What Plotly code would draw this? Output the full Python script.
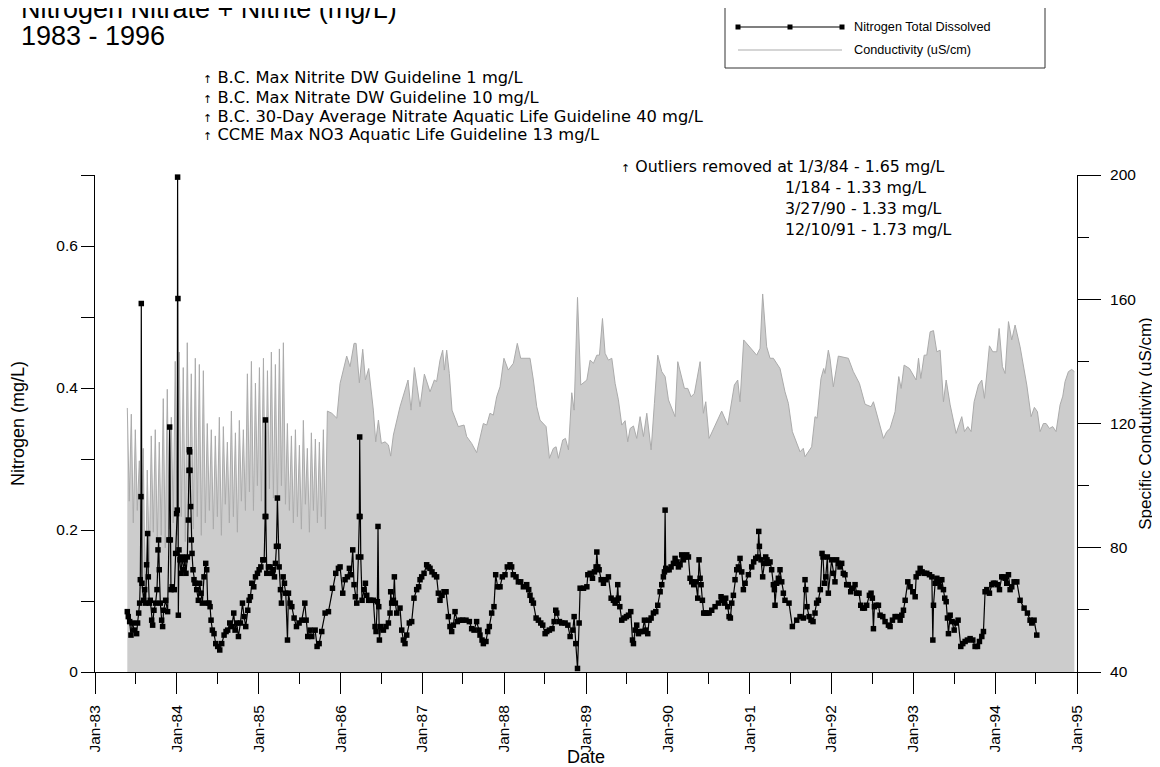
import pandas as pd
import plotly.graph_objects as go

# conductivity (uS/cm), sample dates as decimal years
cond_years = [
    1983.395, 1983.419, 1983.444, 1983.468, 1983.493, 1983.517, 1983.542, 1983.566, 1983.590, 1983.615,
    1983.639, 1983.664, 1983.688, 1983.713, 1983.737, 1983.762, 1983.786, 1983.810, 1983.835, 1983.859,
    1983.884, 1983.908, 1983.933, 1983.957, 1983.981, 1984.006, 1984.030, 1984.055, 1984.079, 1984.104,
    1984.128, 1984.153, 1984.177, 1984.201, 1984.226, 1984.250, 1984.275, 1984.299, 1984.324, 1984.348,
    1984.372, 1984.397, 1984.421, 1984.446, 1984.470, 1984.495, 1984.519, 1984.544, 1984.568, 1984.592,
    1984.617, 1984.641, 1984.666, 1984.690, 1984.715, 1984.739, 1984.763, 1984.788, 1984.812, 1984.837,
    1984.861, 1984.886, 1984.910, 1984.935, 1984.959, 1984.983, 1985.008, 1985.032, 1985.057, 1985.081,
    1985.106, 1985.130, 1985.154, 1985.179, 1985.203, 1985.228, 1985.252, 1985.277, 1985.301, 1985.326,
    1985.350, 1985.374, 1985.399, 1985.423, 1985.448, 1985.472, 1985.497, 1985.521, 1985.545, 1985.570,
    1985.594, 1985.619, 1985.643, 1985.668, 1985.692, 1985.717, 1985.741, 1985.765, 1985.790, 1985.814,
    1985.839, 1985.893, 1985.954,
    1985.994, 1986.075, 1986.116, 1986.165, 1986.190, 1986.230, 1986.271, 1986.304, 1986.344, 1986.401,
    1986.430, 1986.463, 1986.499, 1986.544, 1986.585, 1986.613, 1986.646, 1986.727, 1986.825, 1986.862,
    1986.903, 1986.972, 1987.025, 1987.094, 1987.147, 1987.175, 1987.216, 1987.249, 1987.269, 1987.298,
    1987.330, 1987.363, 1987.440, 1987.510, 1987.542, 1987.603, 1987.664, 1987.746, 1987.787, 1987.827,
    1987.868, 1987.909, 1987.950, 1987.998, 1988.051, 1988.113, 1988.161, 1988.202, 1988.316, 1988.357,
    1988.398, 1988.438, 1988.512, 1988.553, 1988.601, 1988.634, 1988.662, 1988.715, 1988.748, 1988.785,
    1988.825, 1988.854, 1988.895, 1988.935, 1989.009,
    1989.049, 1989.090, 1989.131, 1989.163, 1989.200, 1989.232, 1989.273, 1989.314, 1989.355, 1989.395,
    1989.436, 1989.477, 1989.509, 1989.538, 1989.579, 1989.619, 1989.660, 1989.701, 1989.742, 1989.795,
    1989.835, 1989.876, 1989.925, 1989.966, 1990.007, 1990.088, 1990.121, 1990.202, 1990.243, 1990.284,
    1990.324, 1990.394, 1990.434, 1990.463, 1990.504, 1990.577, 1990.658, 1990.732, 1990.772, 1990.813,
    1990.854, 1990.882, 1990.927, 1991.086, 1991.127, 1991.159, 1991.208, 1991.249, 1991.290, 1991.371,
    1991.432, 1991.473, 1991.522, 1991.616, 1991.656, 1991.677, 1991.758, 1991.799, 1991.824, 1991.872,
    1991.905, 1991.921, 1991.962,
    1991.982, 1992.023, 1992.084, 1992.206, 1992.267, 1992.341, 1992.410, 1992.483, 1992.512, 1992.573,
    1992.634, 1992.675, 1992.715, 1992.776, 1992.821, 1992.850, 1992.886, 1992.952, 1993.033, 1993.062,
    1993.090, 1993.131, 1993.163, 1993.204, 1993.245, 1993.286, 1993.326, 1993.367, 1993.400, 1993.449,
    1993.522, 1993.591, 1993.624, 1993.665, 1993.705, 1993.742, 1993.795, 1993.836, 1993.868, 1993.929,
    1993.970, 1994.019, 1994.048, 1994.088, 1994.121, 1994.162, 1994.202, 1994.243, 1994.304, 1994.386,
    1994.439, 1994.479, 1994.516, 1994.549, 1994.589, 1994.622, 1994.663, 1994.703, 1994.744, 1994.793,
    1994.826, 1994.854, 1994.895, 1994.936, 1994.968,
]
cond_vals = [
    125, 95, 123, 88, 118, 92, 108, 80, 112, 62,
    105, 75, 116, 85, 118, 82, 114, 84, 128, 80,
    131, 86, 122, 88, 140, 84, 143, 90, 138, 82,
    146, 94, 136, 86, 141, 90, 139, 84, 137, 88,
    120, 92, 118, 86, 116, 90, 122, 84, 119, 94,
    114, 88, 124, 90, 117, 85, 121, 95, 118, 92,
    136, 98, 140, 92, 133, 100, 138, 95, 141, 90,
    137, 99, 143, 96, 139, 93, 144, 100, 146, 94,
    120, 92, 116, 88, 118, 90, 113, 86, 121, 94,
    112, 85, 117, 92, 115, 88, 114, 90, 118, 86,
    124, 123.3, 121.7,
    132.9, 141.7, 138.3, 145.8, 145.8, 133.1, 143.9, 134.0, 137.7, 124.3,
    114.1, 121.1, 113.6, 114.1, 113.1, 109.5, 116.3, 125.4, 134.0, 124.3,
    138.0, 125.4, 135.9, 130.2, 134.0, 133.5, 140.4, 143.6, 137.2, 143.6,
    136.1, 124.3, 119.0, 119.5, 115.8, 113.6, 110.6, 120.0, 119.5, 123.3,
    122.7, 128.6, 131.8, 141.0, 137.2, 139.4, 145.8, 141.0, 141.0, 134.0,
    125.4, 121.1, 119.0, 108.8, 112.0, 112.5, 108.8, 114.7, 115.2, 111.5,
    129.9, 124.3, 160.6, 132.4, 134.0,
    140.4, 139.4, 142.0, 142.0, 153.8, 142.6, 140.4, 141.0, 132.9, 127.6,
    119.5, 120.9, 114.1, 118.4, 119.2, 115.2, 122.2, 115.8, 123.3, 111.5,
    126.5, 142.0, 136.7, 135.1, 127.6, 122.2, 139.9, 131.3, 131.3, 128.6,
    129.7, 139.9, 123.3, 127.0, 115.2, 119.5, 124.0, 119.5, 126.5, 132.4,
    134.0, 127.0, 146.9, 142.0, 144.2, 161.7, 144.7, 141.0, 141.0, 137.7,
    130.2, 126.5, 117.4, 110.9, 112.0, 109.3, 112.5, 122.2, 121.7, 134.5,
    137.7, 136.1, 143.6,
    141.0, 131.8, 141.7, 141.0, 136.7, 132.9, 126.2, 125.4, 127.0, 121.1,
    115.2, 117.4, 118.4, 123.8, 135.1, 131.3, 138.8, 137.7, 134.0, 141.0,
    134.5, 142.0, 142.0, 149.5, 149.9, 143.1, 143.6, 127.0, 134.0, 126.0,
    116.8, 122.2, 117.4, 119.0, 117.4, 127.0, 132.4, 134.0, 128.1, 145.0,
    143.1, 143.1, 150.6, 138.3, 136.1, 152.8, 146.9, 151.7, 144.7, 132.4,
    122.2, 125.2, 123.8, 117.4, 120.0, 120.0, 118.4, 119.0, 117.4, 126.0,
    128.8, 133.5, 136.7, 137.4, 136.7,
]

# nitrogen total dissolved (mg/L)
n_years = [
    1983.395, 1983.407, 1983.424, 1983.440, 1983.456, 1983.481, 1983.509, 1983.521, 1983.534, 1983.546,
    1983.554, 1983.562, 1983.566, 1983.574, 1983.595, 1983.607, 1983.619, 1983.631, 1983.644, 1983.652,
    1983.664, 1983.676, 1983.693, 1983.705, 1983.721, 1983.741, 1983.758, 1983.770, 1983.778, 1983.786,
    1983.799, 1983.815, 1983.827, 1983.839, 1983.864, 1983.888, 1983.904, 1983.913, 1983.921, 1983.929,
    1983.945, 1983.970, 1983.986, 1983.998, 1984.006, 1984.010, 1984.014, 1984.019, 1984.027, 1984.039,
    1984.051, 1984.067, 1984.084, 1984.100, 1984.112, 1984.129, 1984.141, 1984.149, 1984.153, 1984.157,
    1984.161, 1984.169, 1984.177, 1984.186, 1984.198, 1984.210, 1984.222, 1984.243, 1984.263, 1984.279,
    1984.296, 1984.312, 1984.332, 1984.353, 1984.365, 1984.377, 1984.393, 1984.406, 1984.418, 1984.434,
    1984.454, 1984.475, 1984.499, 1984.524, 1984.548, 1984.577, 1984.601, 1984.621, 1984.646, 1984.670,
    1984.695, 1984.711, 1984.731, 1984.752, 1984.776, 1984.801, 1984.821, 1984.841, 1984.866, 1984.882,
    1984.898, 1984.915, 1984.939, 1984.960, 1984.984, 1985.004, 1985.025, 1985.049, 1985.066, 1985.078,
    1985.082, 1985.086, 1985.098, 1985.118, 1985.139, 1985.159, 1985.176, 1985.192, 1985.204, 1985.216,
    1985.228, 1985.237, 1985.249, 1985.265, 1985.277, 1985.298, 1985.314, 1985.330, 1985.351, 1985.363,
    1985.383, 1985.404, 1985.432, 1985.461, 1985.493, 1985.526, 1985.563, 1985.579, 1985.599, 1985.628,
    1985.648, 1985.689, 1985.713, 1985.738, 1985.770, 1985.811, 1985.852, 1985.901, 1985.941, 1985.974,
    1985.994, 1986.027, 1986.055, 1986.084, 1986.108, 1986.128, 1986.149, 1986.165, 1986.181, 1986.198,
    1986.218, 1986.230, 1986.234, 1986.238, 1986.247, 1986.263, 1986.287, 1986.304, 1986.320, 1986.344,
    1986.369, 1986.401, 1986.422, 1986.434, 1986.450, 1986.458, 1986.467, 1986.475, 1986.491, 1986.524,
    1986.556, 1986.585, 1986.605, 1986.613, 1986.625, 1986.646, 1986.658, 1986.670, 1986.687, 1986.727,
    1986.748, 1986.768, 1986.788, 1986.809, 1986.841, 1986.870, 1986.898, 1986.931, 1986.955, 1986.972,
    1986.992, 1987.021, 1987.053, 1987.074, 1987.094, 1987.118, 1987.147, 1987.175, 1987.196, 1987.216,
    1987.241, 1987.265, 1987.290, 1987.318, 1987.338, 1987.359, 1987.379, 1987.400, 1987.428, 1987.461,
    1987.493, 1987.534, 1987.575, 1987.603, 1987.632, 1987.664, 1987.693, 1987.705, 1987.730, 1987.746,
    1987.778, 1987.799, 1987.819, 1987.848, 1987.876, 1987.897, 1987.921, 1987.950, 1987.978, 1988.011,
    1988.039, 1988.072, 1988.092, 1988.112, 1988.145, 1988.174, 1988.202, 1988.235, 1988.276, 1988.300,
    1988.316, 1988.337, 1988.357, 1988.390, 1988.418, 1988.447, 1988.471, 1988.500, 1988.520, 1988.552,
    1988.585, 1988.610, 1988.630, 1988.642, 1988.675, 1988.703, 1988.744, 1988.777, 1988.805, 1988.838,
    1988.854, 1988.874, 1988.895, 1988.915, 1988.927, 1988.968, 1989.009,
    1989.021, 1989.049, 1989.078, 1989.102, 1989.122, 1989.131, 1989.143, 1989.159, 1989.184, 1989.212,
    1989.241, 1989.273, 1989.306, 1989.334, 1989.355, 1989.375, 1989.387, 1989.395, 1989.412, 1989.436,
    1989.469, 1989.493, 1989.518, 1989.546, 1989.567, 1989.579, 1989.599, 1989.619, 1989.640, 1989.660,
    1989.689, 1989.713, 1989.729, 1989.754, 1989.770, 1989.795, 1989.823, 1989.852, 1989.876, 1989.905,
    1989.925, 1989.945, 1989.958, 1989.966, 1989.974, 1989.990, 1990.015, 1990.039, 1990.068, 1990.088,
    1990.112, 1990.129, 1990.149, 1990.169, 1990.190, 1990.210, 1990.231, 1990.251, 1990.271, 1990.292,
    1990.316, 1990.341, 1990.365, 1990.381, 1990.394, 1990.406, 1990.422, 1990.438, 1990.455, 1990.475,
    1990.504, 1990.536, 1990.577, 1990.618, 1990.650, 1990.666, 1990.691, 1990.707, 1990.732, 1990.748,
    1990.764, 1990.781, 1990.801, 1990.821, 1990.842, 1990.862, 1990.882, 1990.903, 1990.923, 1990.944,
    1990.984, 1991.025, 1991.049, 1991.074, 1991.098, 1991.111, 1991.119, 1991.139, 1991.159, 1991.180,
    1991.196, 1991.212, 1991.229, 1991.249, 1991.269, 1991.290, 1991.302, 1991.310, 1991.330, 1991.351,
    1991.371, 1991.392, 1991.412, 1991.432, 1991.481, 1991.522, 1991.575, 1991.616, 1991.656, 1991.677,
    1991.685, 1991.701, 1991.726, 1991.750, 1991.775, 1991.799, 1991.819, 1991.840, 1991.864, 1991.885,
    1991.897, 1991.913, 1991.930, 1991.950, 1991.962,
    1992.002, 1992.023, 1992.043, 1992.063, 1992.084, 1992.104, 1992.125, 1992.145, 1992.165, 1992.186,
    1992.206, 1992.235, 1992.259, 1992.288, 1992.308, 1992.336, 1992.357, 1992.381, 1992.402, 1992.430,
    1992.463, 1992.483, 1992.499, 1992.512, 1992.524, 1992.544, 1992.573, 1992.593, 1992.626, 1992.654,
    1992.695, 1992.715, 1992.744, 1992.776, 1992.805, 1992.838, 1992.858, 1992.878, 1992.899, 1992.931,
    1992.960, 1992.992, 1993.021, 1993.033, 1993.058, 1993.082, 1993.106, 1993.131, 1993.163, 1993.196,
    1993.225, 1993.237, 1993.245, 1993.265, 1993.286, 1993.306, 1993.326, 1993.347, 1993.367, 1993.383,
    1993.400, 1993.416, 1993.428, 1993.449, 1993.473, 1993.498, 1993.522, 1993.546, 1993.579, 1993.603,
    1993.632, 1993.660, 1993.693, 1993.726, 1993.754, 1993.783, 1993.807, 1993.836, 1993.856, 1993.876,
    1993.897, 1993.929, 1993.958, 1993.978, 1993.999, 1994.027, 1994.052, 1994.080, 1994.100, 1994.121,
    1994.141, 1994.162, 1994.182, 1994.202, 1994.231, 1994.264, 1994.304, 1994.353, 1994.394, 1994.426,
    1994.447, 1994.475, 1994.508,
]
n_vals = [
    0.085, 0.078, 0.071, 0.052, 0.069, 0.059, 0.054, 0.069, 0.083, 0.097,
    0.130, 0.247, 0.519, 0.125, 0.101, 0.116, 0.097, 0.151, 0.195, 0.134,
    0.097, 0.101, 0.073, 0.066, 0.087, 0.097, 0.116, 0.172, 0.186, 0.144,
    0.097, 0.073, 0.064, 0.087, 0.101, 0.085, 0.186, 0.345, 0.186, 0.116,
    0.120, 0.116, 0.167, 0.223, 0.228, 0.697, 0.526, 0.080, 0.172, 0.158,
    0.139, 0.162, 0.144, 0.158, 0.139, 0.162, 0.214, 0.284, 0.313, 0.310,
    0.284, 0.233, 0.186, 0.167, 0.144, 0.130, 0.125, 0.116, 0.101, 0.125,
    0.111, 0.097, 0.134, 0.153, 0.144, 0.097, 0.097, 0.092, 0.073, 0.059,
    0.054, 0.040, 0.036, 0.031, 0.040, 0.052, 0.057, 0.059, 0.069, 0.064,
    0.083, 0.059, 0.069, 0.050, 0.069, 0.097, 0.078, 0.064, 0.087, 0.101,
    0.106, 0.125, 0.120, 0.134, 0.139, 0.144, 0.148, 0.158, 0.158, 0.219,
    0.355, 0.219, 0.139, 0.148, 0.148, 0.139, 0.144, 0.134, 0.153, 0.177,
    0.245, 0.177, 0.148, 0.116, 0.097, 0.134, 0.125, 0.111, 0.045, 0.111,
    0.097, 0.092, 0.076, 0.064, 0.069, 0.073, 0.097, 0.073, 0.050, 0.059,
    0.050, 0.059, 0.036, 0.040, 0.057, 0.083, 0.085, 0.118, 0.139, 0.146,
    0.148, 0.111, 0.130, 0.134, 0.146, 0.137, 0.172, 0.123, 0.106, 0.097,
    0.162, 0.219, 0.331, 0.219, 0.162, 0.101, 0.116, 0.125, 0.108, 0.101,
    0.101, 0.101, 0.064, 0.057, 0.099, 0.205, 0.092, 0.045, 0.064, 0.059,
    0.064, 0.069, 0.083, 0.113, 0.097, 0.101, 0.134, 0.097, 0.083, 0.090,
    0.059, 0.045, 0.040, 0.052, 0.069, 0.071, 0.104, 0.116, 0.120, 0.130,
    0.134, 0.139, 0.151, 0.148, 0.146, 0.141, 0.137, 0.134, 0.111, 0.101,
    0.108, 0.113, 0.113, 0.078, 0.064, 0.057, 0.066, 0.085, 0.071, 0.073,
    0.073, 0.073, 0.071, 0.061, 0.059, 0.071, 0.059, 0.052, 0.045, 0.040,
    0.043, 0.057, 0.064, 0.083, 0.092, 0.137, 0.120, 0.120, 0.134, 0.137,
    0.148, 0.151, 0.148, 0.137, 0.134, 0.127, 0.127, 0.120, 0.123, 0.116,
    0.108, 0.101, 0.097, 0.076, 0.073, 0.069, 0.066, 0.054, 0.057, 0.059,
    0.061, 0.071, 0.087, 0.083, 0.071, 0.069, 0.069, 0.066, 0.050, 0.059,
    0.078, 0.040, 0.005, 0.069, 0.118, 0.118, 0.120,
    0.137, 0.139, 0.132, 0.141, 0.148, 0.169, 0.148, 0.144, 0.130, 0.125,
    0.130, 0.134, 0.104, 0.101, 0.097, 0.101, 0.123, 0.104, 0.092, 0.073,
    0.076, 0.078, 0.080, 0.085, 0.045, 0.040, 0.059, 0.066, 0.054, 0.057,
    0.057, 0.073, 0.059, 0.054, 0.073, 0.076, 0.083, 0.085, 0.094, 0.113,
    0.123, 0.134, 0.141, 0.228, 0.146, 0.144, 0.144, 0.148, 0.153, 0.160,
    0.155, 0.148, 0.151, 0.165, 0.158, 0.162, 0.165, 0.162, 0.132, 0.127,
    0.123, 0.127, 0.104, 0.158, 0.132, 0.123, 0.101, 0.083, 0.083, 0.083,
    0.083, 0.087, 0.092, 0.097, 0.106, 0.101, 0.097, 0.104, 0.092, 0.078,
    0.076, 0.097, 0.108, 0.130, 0.144, 0.148, 0.160, 0.141, 0.116, 0.125,
    0.137, 0.148, 0.155, 0.160, 0.162, 0.198, 0.177, 0.158, 0.134, 0.153,
    0.162, 0.158, 0.153, 0.155, 0.144, 0.123, 0.116, 0.094, 0.125, 0.132,
    0.144, 0.127, 0.111, 0.101, 0.097, 0.064, 0.073, 0.078, 0.076, 0.130,
    0.116, 0.092, 0.078, 0.073, 0.071, 0.083, 0.097, 0.101, 0.116, 0.167,
    0.162, 0.125, 0.134, 0.162, 0.111,
    0.158, 0.139, 0.127, 0.158, 0.153, 0.148, 0.153, 0.139, 0.137, 0.123,
    0.123, 0.113, 0.118, 0.123, 0.111, 0.111, 0.094, 0.090, 0.090, 0.094,
    0.108, 0.111, 0.104, 0.061, 0.092, 0.094, 0.094, 0.080, 0.078, 0.071,
    0.066, 0.064, 0.073, 0.078, 0.078, 0.073, 0.080, 0.087, 0.101, 0.127,
    0.120, 0.113, 0.106, 0.134, 0.139, 0.146, 0.141, 0.139, 0.139, 0.137,
    0.134, 0.045, 0.094, 0.125, 0.132, 0.127, 0.120, 0.130, 0.116, 0.104,
    0.099, 0.076, 0.054, 0.080, 0.071, 0.059, 0.069, 0.073, 0.036, 0.040,
    0.043, 0.045, 0.047, 0.045, 0.036, 0.036, 0.043, 0.050, 0.057, 0.113,
    0.116, 0.111, 0.123, 0.125, 0.125, 0.123, 0.116, 0.134, 0.134, 0.132,
    0.125, 0.137, 0.116, 0.120, 0.127, 0.127, 0.101, 0.090, 0.083, 0.073,
    0.069, 0.073, 0.052,
]

guidelines = [
    "B.C. Max Nitrite DW Guideline 1 mg/L",
    "B.C. Max Nitrate DW Guideline 10 mg/L",
    "B.C. 30-Day Average Nitrate Aquatic Life Guideline 40 mg/L",
    "CCME Max NO3 Aquatic Life Guideline 13 mg/L",
]
outliers = [
    "Outliers removed at 1/3/84 - 1.65 mg/L",
    "1/184 - 1.33 mg/L",
    "3/27/90 - 1.33 mg/L",
    "12/10/91 - 1.73 mg/L",
]


def to_date(y):
    yr = int(y)
    start = pd.Timestamp(yr, 1, 1)
    end = pd.Timestamp(yr + 1, 1, 1)
    return start + (end - start) * (y - yr)


cond_dates = [to_date(v) for v in cond_years]
n_dates = [to_date(v) for v in n_years]

FONT = "Liberation Sans, Arial, sans-serif"
WIDE = "DejaVu Sans, Liberation Sans, sans-serif"

# page layout (the page body has an 8px margin, figure is shifted by it)
OFF = 8
PL, PR, PT, PB = 95, 1077, 175, 672   # plot area on the page
W, H = 1160 - OFF, 767 - OFF
PW, PH = PR - PL, PB - PT


def px(x):
    return (x - PL) / PW


def py(y):
    return (PB - y) / PH


fig = go.Figure()

fig.add_trace(go.Scatter(
    x=cond_dates, y=cond_vals, name="Conductivity (uS/cm)",
    mode="lines", line=dict(color="#ababab", width=1),
    fill="tozeroy", fillcolor="#cccccc", yaxis="y", showlegend=False,
))
fig.add_trace(go.Scatter(
    x=n_dates, y=n_vals, name="Nitrogen Total Dissolved",
    mode="lines+markers", line=dict(color="black", width=1.2),
    marker=dict(symbol="square", size=5.5, color="black"),
    yaxis="y2", cliponaxis=False, showlegend=False,
))

axis_common = dict(
    showline=True, linecolor="black", linewidth=1, showgrid=False, zeroline=False,
    ticks="outside", tickcolor="black", tickwidth=1, automargin=False,
    tickfont=dict(family=FONT, size=15.5, color="black"),
)

fig.update_layout(
    width=W, height=H,
    margin=dict(l=PL - OFF, r=W - (PR - OFF), t=PT - OFF, b=H - (PB - OFF), pad=0),
    paper_bgcolor="white", plot_bgcolor="white",
    font=dict(family=FONT, size=15, color="black"),
    xaxis=dict(
        axis_common, type="date",
        range=["1983-01-01", "1995-01-01"],
        tick0="1983-01-01", dtick="M12", tickformat="%b-%y",
        tickangle=-90, ticklen=21, ticklabelstandoff=5,
        minor=dict(dtick="M6", ticks="outside", ticklen=11, tickcolor="black"),
        title=dict(text="Date", standoff=3, font=dict(family=FONT, size=18)),
    ),
    yaxis=dict(
        axis_common, side="right", range=[40, 200],
        tick0=40, dtick=40, ticklen=23, ticklabelstandoff=6,
        minor=dict(dtick=20, ticks="outside", ticklen=11, tickcolor="black"),
        title=dict(text="Specific Condutivity (uS/cm)", standoff=2,
                   font=dict(family=FONT, size=17)),
    ),
    yaxis2=dict(
        axis_common, side="left", overlaying="y", range=[0, 0.7],
        tick0=0, dtick=0.2, ticklen=13,
        minor=dict(dtick=0.1, ticks="outside", ticklen=13, tickcolor="black"),
        title=dict(text="Nitrogen (mg/L)", standoff=28,
                   font=dict(family=FONT, size=18)),
    ),
)

# title
fig.add_annotation(text="Nitrogen Nitrate + Nitrite (mg/L)", x=px(19), y=py(9),
                   xref="paper", yref="paper", xanchor="left", yanchor="middle",
                   showarrow=False, font=dict(family=FONT, size=27))
fig.add_annotation(text="1983 - 1996", x=px(19), y=py(36),
                   xref="paper", yref="paper", xanchor="left", yanchor="middle",
                   showarrow=False, font=dict(family=FONT, size=27))

arrow = "<span style='font-size:11px'>↑</span> "
for i, txt in enumerate(guidelines):
    fig.add_annotation(text=arrow + txt, x=px(201), y=py(78 + 19 * i),
                       xref="paper", yref="paper", xanchor="left", yanchor="middle",
                       showarrow=False, font=dict(family=WIDE, size=16.3))

fig.add_annotation(text=arrow + outliers[0], x=px(619), y=py(166),
                   xref="paper", yref="paper", xanchor="left", yanchor="middle",
                   showarrow=False, font=dict(family=WIDE, size=15.8))
for i, txt in enumerate(outliers[1:]):
    fig.add_annotation(text=txt, x=px(783), y=py(187 + 21 * i),
                       xref="paper", yref="paper", xanchor="left", yanchor="middle",
                       showarrow=False, font=dict(family=WIDE, size=15.8))

# legend box
fig.add_shape(type="rect", xref="paper", yref="paper",
              x0=px(725), x1=px(1045), y0=py(68), y1=py(7),
              line=dict(color="#333333", width=1), fillcolor="white")
fig.add_shape(type="line", xref="paper", yref="paper",
              x0=px(738), x1=px(842), y0=py(27), y1=py(27),
              line=dict(color="black", width=1.2))
for mx in (738, 790, 842):
    fig.add_shape(type="rect", xref="paper", yref="paper",
                  x0=px(mx - 2.5), x1=px(mx + 2.5), y0=py(29.5), y1=py(24.5),
                  line=dict(width=0), fillcolor="black")
fig.add_shape(type="line", xref="paper", yref="paper",
              x0=px(738), x1=px(842), y0=py(50), y1=py(50),
              line=dict(color="#ababab", width=1))
fig.add_annotation(text="Nitrogen Total Dissolved", x=px(852), y=py(27),
                   xref="paper", yref="paper", xanchor="left", yanchor="middle",
                   showarrow=False, font=dict(family=FONT, size=12.7))
fig.add_annotation(text="Conductivity (uS/cm)", x=px(852), y=py(50),
                   xref="paper", yref="paper", xanchor="left", yanchor="middle",
                   showarrow=False, font=dict(family=FONT, size=12.7))

fig.write_html("out.html")
